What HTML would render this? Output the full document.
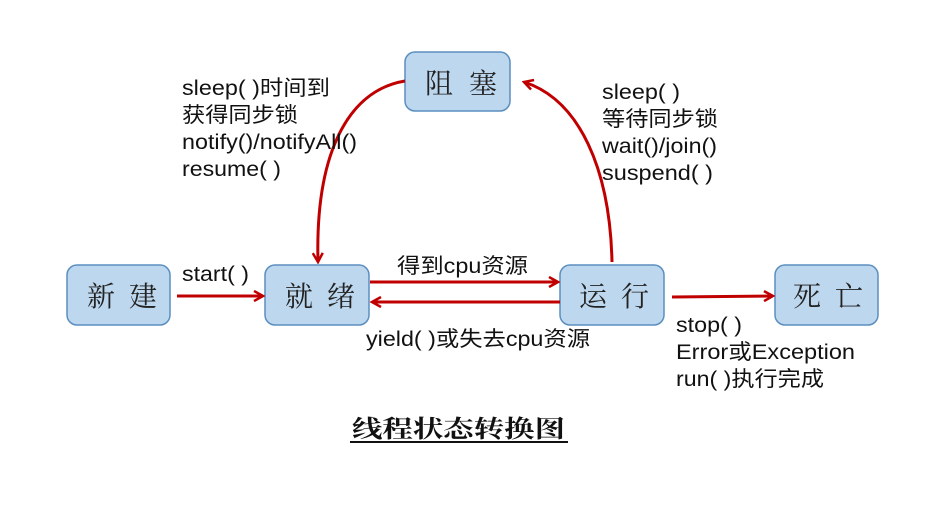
<!DOCTYPE html>
<html><head><meta charset="utf-8"><style>
html,body{margin:0;padding:0;background:#fff;}
svg{display:block;}
.lb{font-family:"Liberation Sans","Noto Sans CJK SC",sans-serif;font-size:21px;fill:#111;}
.bx{font-family:"Noto Serif CJK SC","Noto Sans CJK SC",serif;font-size:28px;fill:#222;}
</style></head><body>
<svg width="939" height="517" viewBox="0 0 939 517" xmlns="http://www.w3.org/2000/svg">
<defs>
<marker id="a" markerWidth="12" markerHeight="12" refX="10" refY="6" orient="auto" markerUnits="userSpaceOnUse">
<path d="M1,1 L10,6 L1,11" fill="none" stroke="#c00000" stroke-width="2.5"/>
</marker>
</defs>
<g fill="#bdd7ee" stroke="#5b8fbf" stroke-width="1.5">
<rect x="67" y="265" width="103" height="60" rx="10"/>
<rect x="265" y="265" width="104" height="60" rx="10"/>
<rect x="560" y="265" width="104" height="60" rx="10"/>
<rect x="775" y="265" width="103" height="60" rx="10"/>
<rect x="405" y="52" width="105" height="59" rx="10"/>
</g>
<g class="bx">
<text x="87" y="306" textLength="70">新 建</text>
<text x="285" y="306" textLength="70">就 绪</text>
<text x="579" y="306" textLength="70">运 行</text>
<text x="793" y="306" textLength="70">死 亡</text>
<text x="425" y="93" textLength="72">阻 塞</text>
</g>
<g stroke="#c00000" stroke-width="3" fill="none">
<line x1="177" y1="296" x2="263" y2="296" marker-end="url(#a)"/>
<line x1="370" y1="282" x2="558" y2="282" marker-end="url(#a)"/>
<line x1="560" y1="302" x2="372" y2="302" marker-end="url(#a)"/>
<line x1="672" y1="297" x2="773" y2="296" marker-end="url(#a)"/>
<path d="M405,81 C350,90 315,150 318,262" marker-end="url(#a)"/>
<path d="M612,262 C610,170 580,100 524,82" marker-end="url(#a)"/>
</g>
<g class="lb" lengthAdjust="spacingAndGlyphs">
<text x="182" y="95" textLength="148" lengthAdjust="spacingAndGlyphs">sleep( )时间到</text>
<text x="182" y="122" textLength="116" lengthAdjust="spacingAndGlyphs">获得同步锁</text>
<text x="182" y="149" textLength="175" lengthAdjust="spacingAndGlyphs">notify()/notifyAll()</text>
<text x="182" y="176" textLength="99" lengthAdjust="spacingAndGlyphs">resume( )</text>
<text x="602" y="99" textLength="78" lengthAdjust="spacingAndGlyphs">sleep( )</text>
<text x="602" y="126" textLength="116" lengthAdjust="spacingAndGlyphs">等待同步锁</text>
<text x="602" y="153" textLength="115" lengthAdjust="spacingAndGlyphs">wait()/join()</text>
<text x="602" y="180" textLength="111" lengthAdjust="spacingAndGlyphs">suspend( )</text>
<text x="182" y="281" textLength="67" lengthAdjust="spacingAndGlyphs">start( )</text>
<text x="397" y="273" textLength="131" lengthAdjust="spacingAndGlyphs">得到cpu资源</text>
<text x="366" y="346" textLength="224" lengthAdjust="spacingAndGlyphs">yield( )或失去cpu资源</text>
<text x="676" y="332" textLength="66" lengthAdjust="spacingAndGlyphs">stop( )</text>
<text x="676" y="359" textLength="179" lengthAdjust="spacingAndGlyphs">Error或Exception</text>
<text x="676" y="386" textLength="148" lengthAdjust="spacingAndGlyphs">run( )执行完成</text>
</g>
<text x="352" y="437" font-family="'Noto Serif CJK SC','Noto Sans CJK SC',serif" font-size="24" font-weight="bold" fill="#111" textLength="213" lengthAdjust="spacingAndGlyphs">线程状态转换图</text>
<line x1="350" y1="442" x2="568" y2="442" stroke="#111" stroke-width="2"/>
</svg>
</body></html>
